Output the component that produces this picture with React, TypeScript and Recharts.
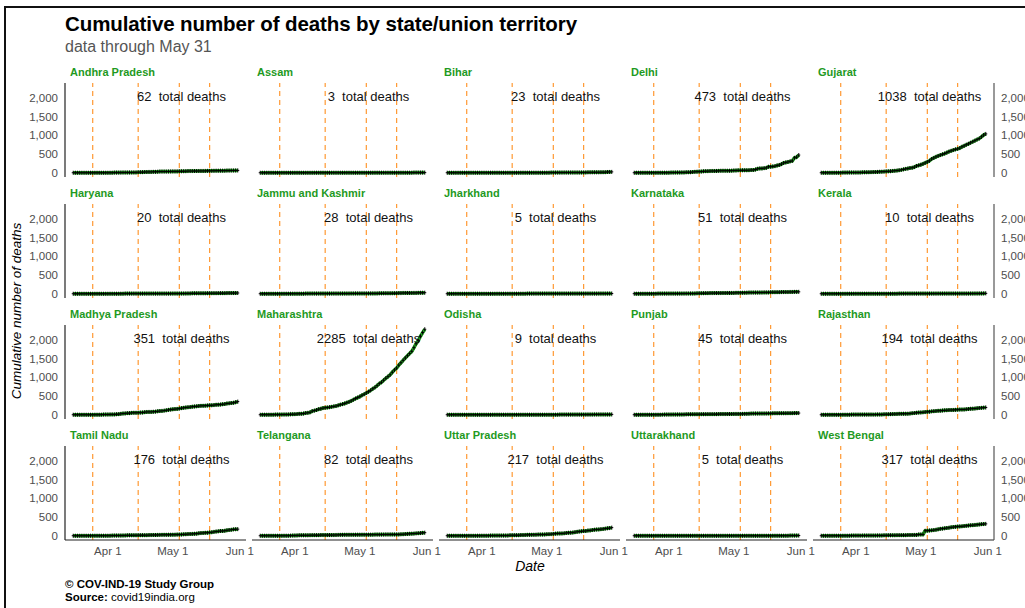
import React from 'react';
import { LineChart, Line, XAxis, YAxis, ReferenceLine, ReferenceDot } from 'recharts';

// x is counted in days since 1 March 2020; the series run 16 March .. 31 May
const FIRST_DAY = 15;
const days = Array.from({ length: 77 }, (_, i) => FIRST_DAY + i);
const monthTicks = [31, 61, 92];
const monthLabels = ['Apr 1', 'May 1', 'Jun 1'];
const lockdownDays = [24, 45, 64, 78]; // Mar 25, Apr 15, May 4, May 18
const yTicks = [0, 500, 1000, 1500, 2000];

const states = [
  'Andhra Pradesh', 'Assam', 'Bihar', 'Delhi', 'Gujarat',
  'Haryana', 'Jammu and Kashmir', 'Jharkhand', 'Karnataka', 'Kerala',
  'Madhya Pradesh', 'Maharashtra', 'Odisha', 'Punjab', 'Rajasthan',
  'Tamil Nadu', 'Telangana', 'Uttar Pradesh', 'Uttarakhand', 'West Bengal',
];

const andhraPradesh = [0,0,0,0,0,0, 0,0,0,0,0,0,0, 0,0,0,0,1,1,3, 3,3,4,6,6,6,7, 7,9,9,14,16,16,19, 20,22,22,24,24,27,31, 31,31,31,33,34,36,36, 36,38,39,40,41,44,45, 45,46,46,47,48,48,49, 50,50,52,53,55,55,56, 56,56,57,57,59,60,61, 62];
const assam = [0,0,0,0,0,0, 0,0,0,0,0,0,0, 0,0,0,0,0,0,0, 0,0,0,0,0,1,1, 1,1,1,1,1,1,1, 1,1,1,1,1,1,1, 1,1,1,1,1,1,1, 1,1,1,1,1,2,2, 2,2,2,2,2,2,2, 2,2,2,2,2,2,2, 2,2,3,3,3,3,3, 3];
const bihar = [0,0,0,0,0,0, 1,1,1,1,1,1,1, 1,1,1,1,1,1,1, 1,1,1,1,1,1,1, 1,1,1,1,1,1,1, 2,2,2,2,2,2,2, 2,2,2,2,2,2,2, 4,4,4,4,5,5,6, 6,6,6,6,6,6,6, 7,8,9,10,10,11,11, 11,11,13,14,15,20,21, 23];
const delhi = [0,1,1,1,1,1, 1,1,1,1,1,2,2, 2,2,2,2,4,4,6, 7,7,9,9,12,13,14, 19,24,28,30,32,38,42, 43,45,47,47,48,50,53, 54,54,54,54,56,59,61, 64,64,65,66,66,68,73, 73,86,106,115,115,123,129, 160,160,168,176,194,208,231, 261,276,288,303,316,398,416, 473];
const gujarat = [0,0,0,0,0,0, 1,1,1,1,3,3,4, 6,6,6,6,7,7,10, 11,12,13,16,17,19,22, 26,28,30,36,38,41,48, 53,58,67,77,90,103,112, 127,133,151,181,197,214,236, 262,290,319,368,396,425,449, 472,493,513,537,566,586,606, 625,638,659,694,719,749,773, 802,829,858,888,915,960,1007, 1038];
const haryana = [0,0,0,0,0,0, 0,0,0,0,0,0,0, 0,0,0,0,1,1,1, 1,1,2,2,3,3,3, 3,3,3,3,3,3,3, 3,3,3,3,3,3,3, 3,3,3,3,3,4,5, 5,5,6,6,7,9,9, 11,11,11,11,11,11,11, 13,14,14,15,15,16,16, 16,16,17,18,18,18,19, 20];
const jammuKashmir = [0,0,0,0,0,0, 0,0,0,1,1,1,2, 2,2,2,2,2,2,2, 2,3,3,4,4,4,4, 4,4,4,4,4,4,5, 5,5,5,5,5,5,5, 5,7,7,8,8,8,8, 8,8,8,8,8,9,9, 10,10,11,11,11,11,12, 13,15,17,17,21,21,21, 21,21,23,23,25,26,27, 28];
const jharkhand = [0,0,0,0,0,0, 0,0,0,0,0,0,0, 0,0,0,0,0,0,0, 0,0,0,1,1,1,1, 1,1,2,2,2,2,2, 2,2,2,3,3,3,3, 3,3,3,3,3,3,3, 3,3,3,3,3,3,3, 3,3,3,3,3,3,3, 3,3,3,3,3,3,3, 3,4,4,4,4,5,5, 5];
const karnataka = [1,1,1,1,1,1, 1,1,1,2,2,3,3, 3,3,3,3,3,3,3, 4,4,4,5,6,6,6, 6,7,10,12,13,14,16, 16,17,17,18,18,18,18, 20,20,21,21,22,22,25, 25,26,27,28,29,30,30, 31,31,31,32,33,36,36, 36,40,41,41,42,42,44, 44,45,45,48,48,50,50, 51];
const kerala = [0,0,0,0,0,0, 0,0,0,0,0,0,1, 1,2,2,2,2,2,2, 2,2,2,2,2,2,2, 2,2,2,2,2,2,2, 2,2,3,3,3,3,3, 3,3,3,3,3,3,3, 3,3,3,3,3,3,4, 4,4,4,4,4,4,4, 4,4,4,4,4,4,4, 5,5,6,6,7,8,9, 10];
const madhyaPradesh = [0,0,0,0,0,0, 0,0,0,0,1,1,2, 2,5,6,6,8,9,9, 13,16,25,33,36,43,43, 50,53,53,55,57,60,69, 74,76,76,80,83,92,99, 103,110,119,130,137,145,151, 156,165,176,185,193,200,205, 215,221,225,232,237,239,243, 248,252,252,258,266,270,272, 281,287,300,305,313,320,334, 351];
const maharashtra = [0,1,1,1,1,2, 2,3,3,3,4,6,7, 8,10,13,16,19,24,26, 32,45,52,64,97,110,127, 149,160,178,187,194,201,211, 223,232,251,269,283,301,323, 342,369,400,432,459,485,521, 548,583,617,651,694,731,779, 832,868,921,975,1019,1068,1135, 1198,1249,1325,1390,1454,1517,1577, 1635,1695,1792,1897,1982,2098,2197, 2285];
const odisha = [0,0,0,0,0,0, 0,0,0,0,0,0,0, 0,0,0,0,0,0,0, 0,1,1,1,1,1,1, 1,1,1,1,1,1,1, 1,1,1,1,1,1,1, 1,1,1,1,1,1,1, 1,1,2,2,3,3,3, 3,3,3,3,3,3,3, 3,3,3,4,4,4,7, 7,7,7,7,7,7,7, 9];
const punjab = [0,0,0,1,1,1, 1,1,1,1,1,1,1, 3,4,5,5,5,6,6, 7,7,7,8,10,11,11, 12,12,13,13,14,14,15, 16,16,16,16,16,17,18, 18,18,19,20,20,21,22, 22,22,23,24,25,28,30, 31,32,32,33,33,33,34, 36,36,38,39,39,40,40, 40,40,42,42,42,44,44, 45];
const rajasthan = [0,0,0,0,0,0, 0,0,0,0,1,1,1, 1,3,3,3,3,3,3, 3,3,3,3,3,5,7, 7,7,11,13,14,16,17, 19,22,25,25,27,27,28, 33,41,46,53,58,61,65, 71,77,82,90,95,100,106, 107,113,117,121,125,126,128, 131,135,138,138,140,147,153, 160,163,167,173,180,184,190, 194];
const tamilNadu = [0,0,0,0,0,0, 0,0,1,1,1,1,1, 1,1,1,1,2,3,5, 5,5,5,7,8,11,11, 12,12,12,15,15,15,15, 15,17,18,20,20,22,23, 24,25,25,27,27,28,29, 30,31,33,37,40,44,47, 49,53,56,66,71,74,79, 81,87,94,103,111,118,127, 127,133,145,154,160,170,173, 176];
const telangana = [0,0,0,0,0,0, 0,0,0,0,0,1,1, 1,3,5,6,9,11,11, 11,11,11,14,16,16,16, 16,18,18,18,18,18,18, 18,21,23,24,25,26,26, 26,26,26,28,28,28,29, 29,29,29,29,29,30,30, 30,31,31,34,34,34,34, 34,35,35,38,40,45,49, 53,56,57,63,67,71,77, 82];
const uttarPradesh = [0,0,0,0,0,0, 0,0,0,0,0,0,0, 0,1,1,2,2,2,2, 3,3,3,4,4,4,5, 5,5,13,14,14,14,14, 18,18,21,24,25,26,27, 29,31,31,32,34,39,41, 43,50,56,60,60,62,66, 74,80,82,86,95,104,112, 118,125,127,138,142,152,161, 165,169,176,182,190,198,204, 217];
const uttarakhand = [0,0,0,0,0,0, 0,0,0,0,0,0,0, 0,0,0,0,0,0,0, 0,0,0,0,0,0,0, 0,0,0,0,0,0,0, 0,0,0,0,0,0,0, 0,0,0,0,0,0,0, 0,0,0,0,0,0,0, 0,0,0,0,0,0,0, 0,0,1,1,1,1,1, 1,1,1,4,4,4,5, 5];
const westBengal = [0,0,0,0,0,0, 1,1,1,1,1,1,1, 2,3,3,3,3,3,5, 5,5,5,5,5,5,7, 7,7,10,10,12,12,12, 12,15,15,15,15,15,18, 18,20,22,22,33,33,35, 133,135,140,144,151,160,171, 185,190,198,207,215,225,232, 238,244,250,253,259,265,272, 278,283,289,295,302,309,312, 317];

const series = [
  andhraPradesh, assam, bihar, delhi, gujarat,
  haryana, jammuKashmir, jharkhand, karnataka, kerala,
  madhyaPradesh, maharashtra, odisha, punjab, rajasthan,
  tamilNadu, telangana, uttarPradesh, uttarakhand, westBengal,
];

const FONT = '"Liberation Sans", Arial, Helvetica, sans-serif';
const GREEN = '#1f9a1f';
const ORANGE = '#ff9933';
const AXIS = '#222';
const TICK = '#4d4d4d';

const PANEL_W = 181;
const PANEL_H = 94;
const PAD_L = 55, PAD_R = 55, PAD_T = 10, PAD_B = 30;
const COL_X = [65, 252, 439, 626, 813];
const ROW_Y = [83, 204, 325, 446];

const plusDot = (p: any) => {
  if (p.cx == null || p.cy == null) return <g key={'d' + p.index} />;
  return (
    <path
      key={'d' + p.index}
      d={`M${p.cx - 1.5},${p.cy}h3M${p.cx},${p.cy - 2}v4`}
      stroke="#000"
      strokeWidth={1}
      fill="none"
    />
  );
};

const Panel = ({ index }: { index: number }) => {
  const col = index % 5;
  const row = Math.floor(index / 5);
  const values = series[index];
  const data = days.map((day, i) => ({ day, deaths: values[i] }));
  const total = values[values.length - 1];
  const leftAxis = col === 0;
  const rightAxis = col === 4;
  const bottomAxis = row === 3;

  return (
    <>
      <div
        style={{
          position: 'absolute', left: COL_X[col] + 5, top: ROW_Y[row] - 16,
          fontSize: 11, fontWeight: 'bold', color: GREEN, lineHeight: 1, whiteSpace: 'nowrap',
        }}
      >
        {states[index]}
      </div>
      <div style={{ position: 'absolute', left: COL_X[col] - PAD_L, top: ROW_Y[row] - PAD_T }}>
        <LineChart
          width={PANEL_W + PAD_L + PAD_R}
          height={PANEL_H + PAD_T + PAD_B}
          data={data}
          margin={{
            top: PAD_T,
            left: leftAxis ? PAD_L - 49 : PAD_L,
            right: rightAxis ? PAD_R - 49 : PAD_R,
            bottom: bottomAxis ? PAD_B - 25 : PAD_B,
          }}
        >
          <XAxis
            type="number"
            dataKey="day"
            domain={[11.2, 94.8]}
            ticks={monthTicks}
            tickFormatter={(v: number) => monthLabels[monthTicks.indexOf(v)]}
            hide={!bottomAxis}
            height={25}
            tickSize={0}
            tickMargin={7}
            axisLine={{ stroke: AXIS, strokeWidth: 1.2 }}
            tick={{ fill: TICK, fontSize: 11.5 }}
            interval={0}
          />
          <YAxis
            type="number"
            domain={[-114, 2399]}
            ticks={yTicks}
            orientation={rightAxis ? 'right' : 'left'}
            hide={!leftAxis && !rightAxis}
            width={49}
            tickSize={0}
            tickMargin={7}
            tickFormatter={(v: number) => v.toLocaleString('en-US')}
            axisLine={{ stroke: rightAxis ? '#555' : AXIS, strokeWidth: 1.2 }}
            tick={{ fill: TICK, fontSize: 11.5 }}
            interval={0}
          />
          {lockdownDays.map((d) => (
            <ReferenceLine key={d} x={d} stroke={ORANGE} strokeWidth={1.2} strokeDasharray="5 4" />
          ))}
          <Line
            type="linear"
            dataKey="deaths"
            stroke={GREEN}
            strokeWidth={3.5}
            dot={plusDot}
            activeDot={false}
            isAnimationActive={false}
          />
          <ReferenceDot
            x={65}
            y={2050}
            r={0}
            fill="none"
            stroke="none"
            label={{ value: `${total}\u00a0 total deaths`, position: 'center', fill: '#111', fontSize: 13 }}
          />
        </LineChart>
      </div>
    </>
  );
};

export default function App() {
  return (
    <div
      style={{
        position: 'absolute', left: 0, top: 0, width: 1025, height: 608,
        background: '#fff', overflow: 'hidden', fontFamily: FONT,
      }}
    >
      {/* page frame */}
      <div style={{ position: 'absolute', left: 4, top: 6, width: 1021, height: 2, background: '#111' }} />
      <div style={{ position: 'absolute', left: 4, top: 6, width: 2, height: 602, background: '#111' }} />

      <div style={{ position: 'absolute', left: 65, top: 14, fontSize: 20.5, fontWeight: 'bold', color: '#000', lineHeight: 1, whiteSpace: 'nowrap', letterSpacing: -0.1 }}>
        Cumulative number of deaths by state/union territory
      </div>
      <div style={{ position: 'absolute', left: 65, top: 39, fontSize: 16, color: '#555', lineHeight: 1, whiteSpace: 'nowrap' }}>
        data through May 31
      </div>

      {states.map((_, i) => (
        <Panel key={i} index={i} />
      ))}

      <div
        style={{
          position: 'absolute', left: 17, top: 311, fontSize: 13.5, fontStyle: 'italic', color: '#000',
          lineHeight: 1, whiteSpace: 'nowrap', transform: 'translate(-50%, -50%) rotate(-90deg)',
        }}
      >
        Cumulative number of deaths
      </div>
      <div
        style={{
          position: 'absolute', left: 530, top: 566, fontSize: 14, fontStyle: 'italic', color: '#000',
          lineHeight: 1, whiteSpace: 'nowrap', transform: 'translate(-50%, -50%)',
        }}
      >
        Date
      </div>

      <div style={{ position: 'absolute', left: 65, top: 579, fontSize: 11.5, fontWeight: 'bold', lineHeight: 1, whiteSpace: 'nowrap' }}>
        © COV-IND-19 Study Group
      </div>
      <div style={{ position: 'absolute', left: 65, top: 592, fontSize: 11.5, lineHeight: 1, whiteSpace: 'nowrap' }}>
        <b>Source:</b> covid19india.org
      </div>
    </div>
  );
}
